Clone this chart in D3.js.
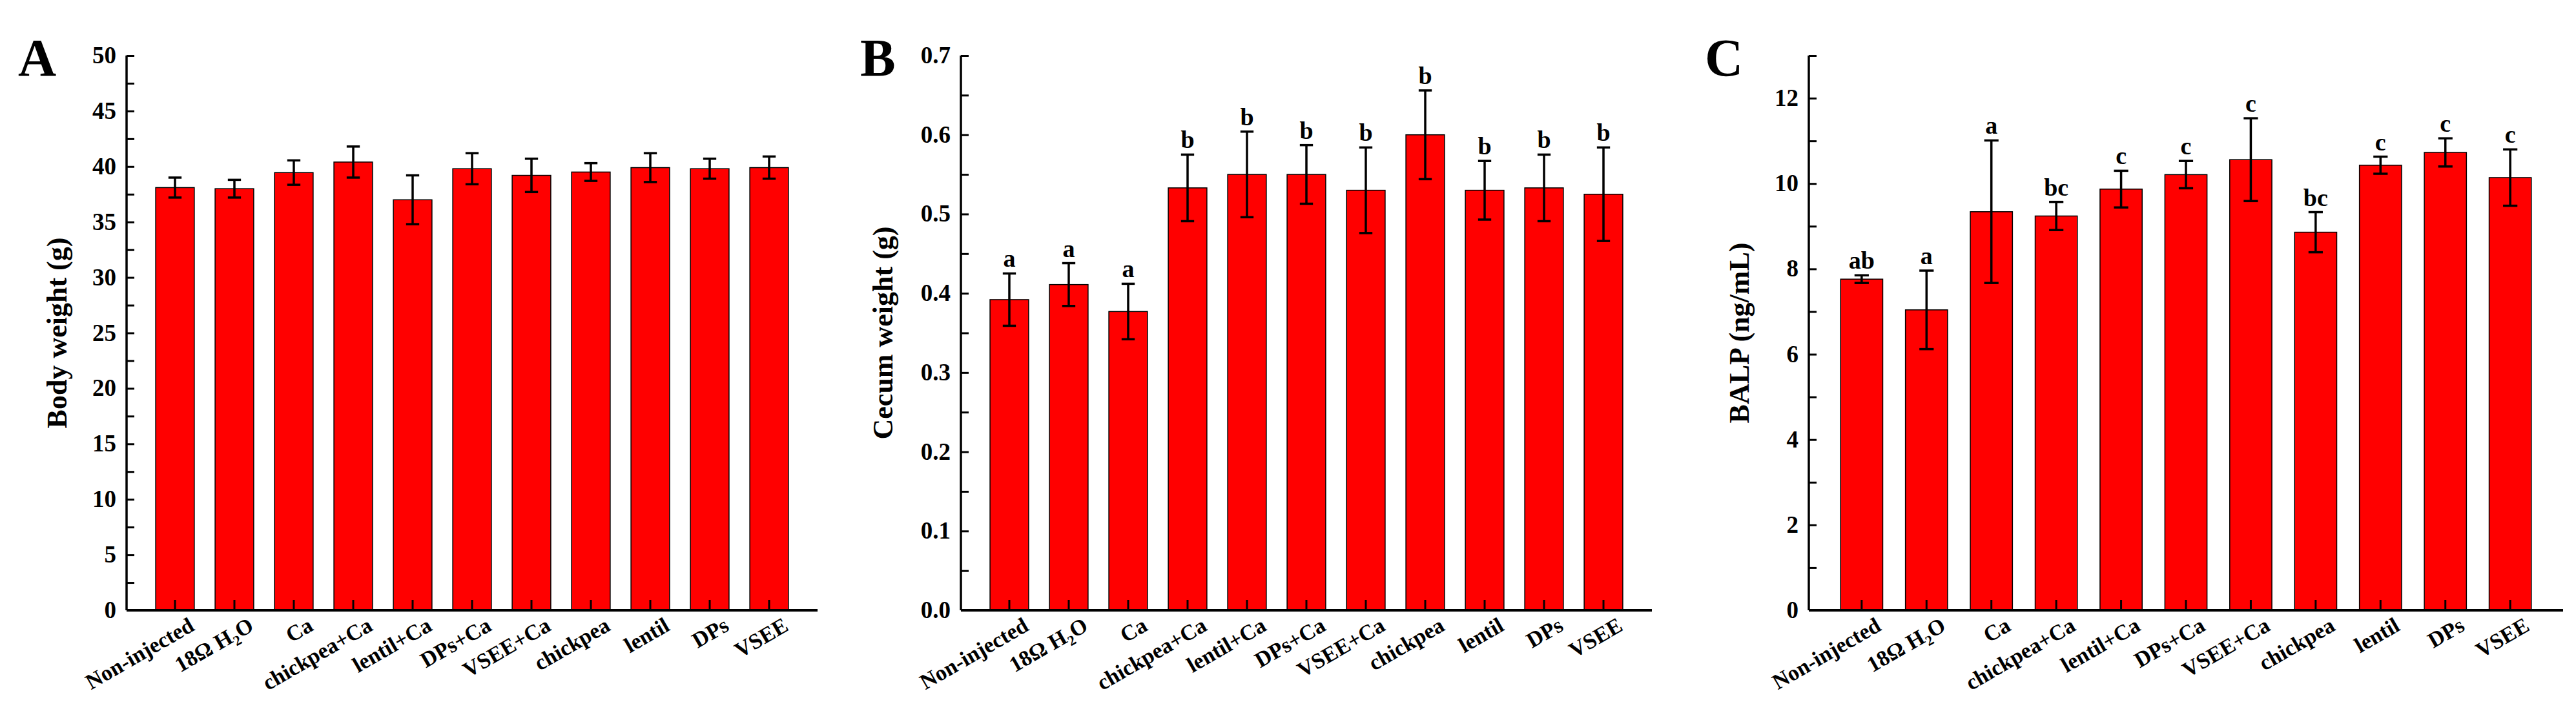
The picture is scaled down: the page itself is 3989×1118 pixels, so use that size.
<!DOCTYPE html>
<html>
<head>
<meta charset="utf-8">
<script src="https://cdn.jsdelivr.net/npm/d3@7"></script>
<style>
  body { margin: 0; background: #fff; }
  svg text { font-family: "Liberation Serif", "Times New Roman", serif; font-weight: bold; fill: #000; }
</style>
</head>
<body>
<svg id="fig" width="3989" height="1118"></svg>
<script>
// groups, same for all three panels
const groups = ['Non-injected', '18Ω H2O', 'Ca', 'chickpea+Ca', 'lentil+Ca', 'DPs+Ca', 'VSEE+Ca', 'chickpea', 'lentil', 'DPs', 'VSEE'];

// A: body weight
const bodyWeight = [38.1, 38.0, 39.45, 40.4, 37.0, 39.8, 39.2, 39.5, 39.9, 39.8, 39.9];
const bodyWeightErr = [0.9, 0.8, 1.1, 1.4, 2.2, 1.4, 1.5, 0.8, 1.3, 0.9, 1.0];

// B: cecum weight
const cecumWeight = [0.392, 0.411, 0.377, 0.533, 0.550, 0.550, 0.530, 0.600, 0.530, 0.533, 0.525];
const cecumWeightErr = [0.033, 0.027, 0.035, 0.042, 0.054, 0.037, 0.054, 0.056, 0.037, 0.042, 0.059];
const cecumLetters = ['a', 'a', 'a', 'b', 'b', 'b', 'b', 'b', 'b', 'b', 'b'];

// C: BALP
const balp = [7.76, 7.04, 9.34, 9.24, 9.87, 10.21, 10.56, 8.86, 10.43, 10.73, 10.14];
const balpErr = [0.09, 0.92, 1.67, 0.33, 0.43, 0.32, 0.97, 0.47, 0.2, 0.33, 0.66];
const balpLetters = ['ab', 'a', 'a', 'bc', 'c', 'c', 'c', 'bc', 'c', 'c', 'c'];

const svg = d3.select('#fig');
const yTop = 86, yBottom = 945;

function panel(opt) {
	const g = svg.append('g');
	const x = d3.scaleBand().domain(groups).range([opt.x0, opt.x1]).paddingInner(0.35).paddingOuter(0.49);
	const y = d3.scaleLinear().domain([0, opt.max]).range([yBottom, yTop]);

	// bars
	g.selectAll('rect.bar').data(opt.values).enter().append('rect')
		.attr('x', (d, i) => x(groups[i]))
		.attr('y', d => y(d))
		.attr('width', x.bandwidth())
		.attr('height', d => yBottom - y(d))
		.attr('fill', '#ff0000')
		.attr('stroke', '#000').attr('stroke-width', 1.5);

	// error bars
	const cap = x.bandwidth() * 0.17;
	opt.values.forEach((v, i) => {
		const cx = x(groups[i]) + x.bandwidth() / 2;
		const e = opt.err[i];
		const eg = g.append('g').attr('stroke', '#000').attr('stroke-width', 3.5);
		eg.append('line').attr('x1', cx).attr('x2', cx).attr('y1', y(v - e)).attr('y2', y(v + e));
		eg.append('line').attr('x1', cx - cap).attr('x2', cx + cap).attr('y1', y(v - e)).attr('y2', y(v - e));
		eg.append('line').attr('x1', cx - cap).attr('x2', cx + cap).attr('y1', y(v + e)).attr('y2', y(v + e));
		if (opt.letters) {
			g.append('text').attr('x', cx).attr('y', y(v + e) - 10)
				.attr('text-anchor', 'middle').attr('font-size', 38).text(opt.letters[i]);
		}
	});

	// y axis, ticks point inward
	const yAxis = d3.axisRight(y).tickValues(d3.range(0, opt.max + 1e-9, opt.minor)).tickSize(12).tickFormat('');
	g.append('g').attr('transform', `translate(${opt.x0},0)`).call(yAxis)
		.call(a => a.select('.domain').remove())
		.call(a => a.selectAll('line').attr('stroke', '#000').attr('stroke-width', 3));
	g.append('line').attr('x1', opt.x0).attr('x2', opt.x0).attr('y1', yTop).attr('y2', yBottom)
		.attr('stroke', '#000').attr('stroke-width', 3.5);
	opt.major.forEach(t => {
		g.append('text').attr('x', opt.x0 - 16).attr('y', y(t) + 12)
			.attr('text-anchor', 'end').attr('font-size', 37).text(opt.fmt(t));
	});

	// x axis
	g.append('line').attr('x1', opt.x0).attr('x2', opt.x1).attr('y1', yBottom).attr('y2', yBottom)
		.attr('stroke', '#000').attr('stroke-width', 4);
	groups.forEach(name => {
		const cx = x(name) + x.bandwidth() / 2;
		g.append('line').attr('x1', cx).attr('x2', cx).attr('y1', yBottom).attr('y2', yBottom - 16)
			.attr('stroke', '#000').attr('stroke-width', 3);
		const t = g.append('text').attr('text-anchor', 'end').attr('font-size', 34)
			.attr('transform', `translate(${cx + 32},${yBottom + 30}) rotate(-30)`);
		if (name === '18Ω H2O') {
			t.append('tspan').text('18Ω H');
			t.append('tspan').attr('font-size', 22).attr('dy', 8).text('2');
			t.append('tspan').attr('dy', -8).text('O');
		} else {
			t.text(name);
		}
	});

	// axis title and panel letter
	g.append('text').attr('transform', `translate(${opt.titleX},${(yTop + yBottom) / 2}) rotate(-90)`)
		.attr('text-anchor', 'middle').attr('font-size', 44).text(opt.title);
	g.append('text').attr('x', opt.letterX).attr('y', 117).attr('font-size', 82).text(opt.letter);
}

panel({x0: 196, x1: 1266, max: 50, minor: 2.5, major: d3.range(0, 51, 5), fmt: d => d,
	values: bodyWeight, err: bodyWeightErr, title: 'Body weight (g)', titleX: 103, letter: 'A', letterX: 28});
panel({x0: 1488, x1: 2558, max: 0.7, minor: 0.05, major: d3.range(0, 8).map(d => d / 10), fmt: d3.format('.1f'),
	values: cecumWeight, err: cecumWeightErr, letters: cecumLetters, title: 'Cecum weight (g)', titleX: 1382, letter: 'B', letterX: 1332});
panel({x0: 2801, x1: 3969, max: 13, minor: 1, major: d3.range(0, 13, 2), fmt: d => d,
	values: balp, err: balpErr, letters: balpLetters, title: 'BALP (ng/mL)', titleX: 2708, letter: 'C', letterX: 2640});
</script>
</body>
</html>
